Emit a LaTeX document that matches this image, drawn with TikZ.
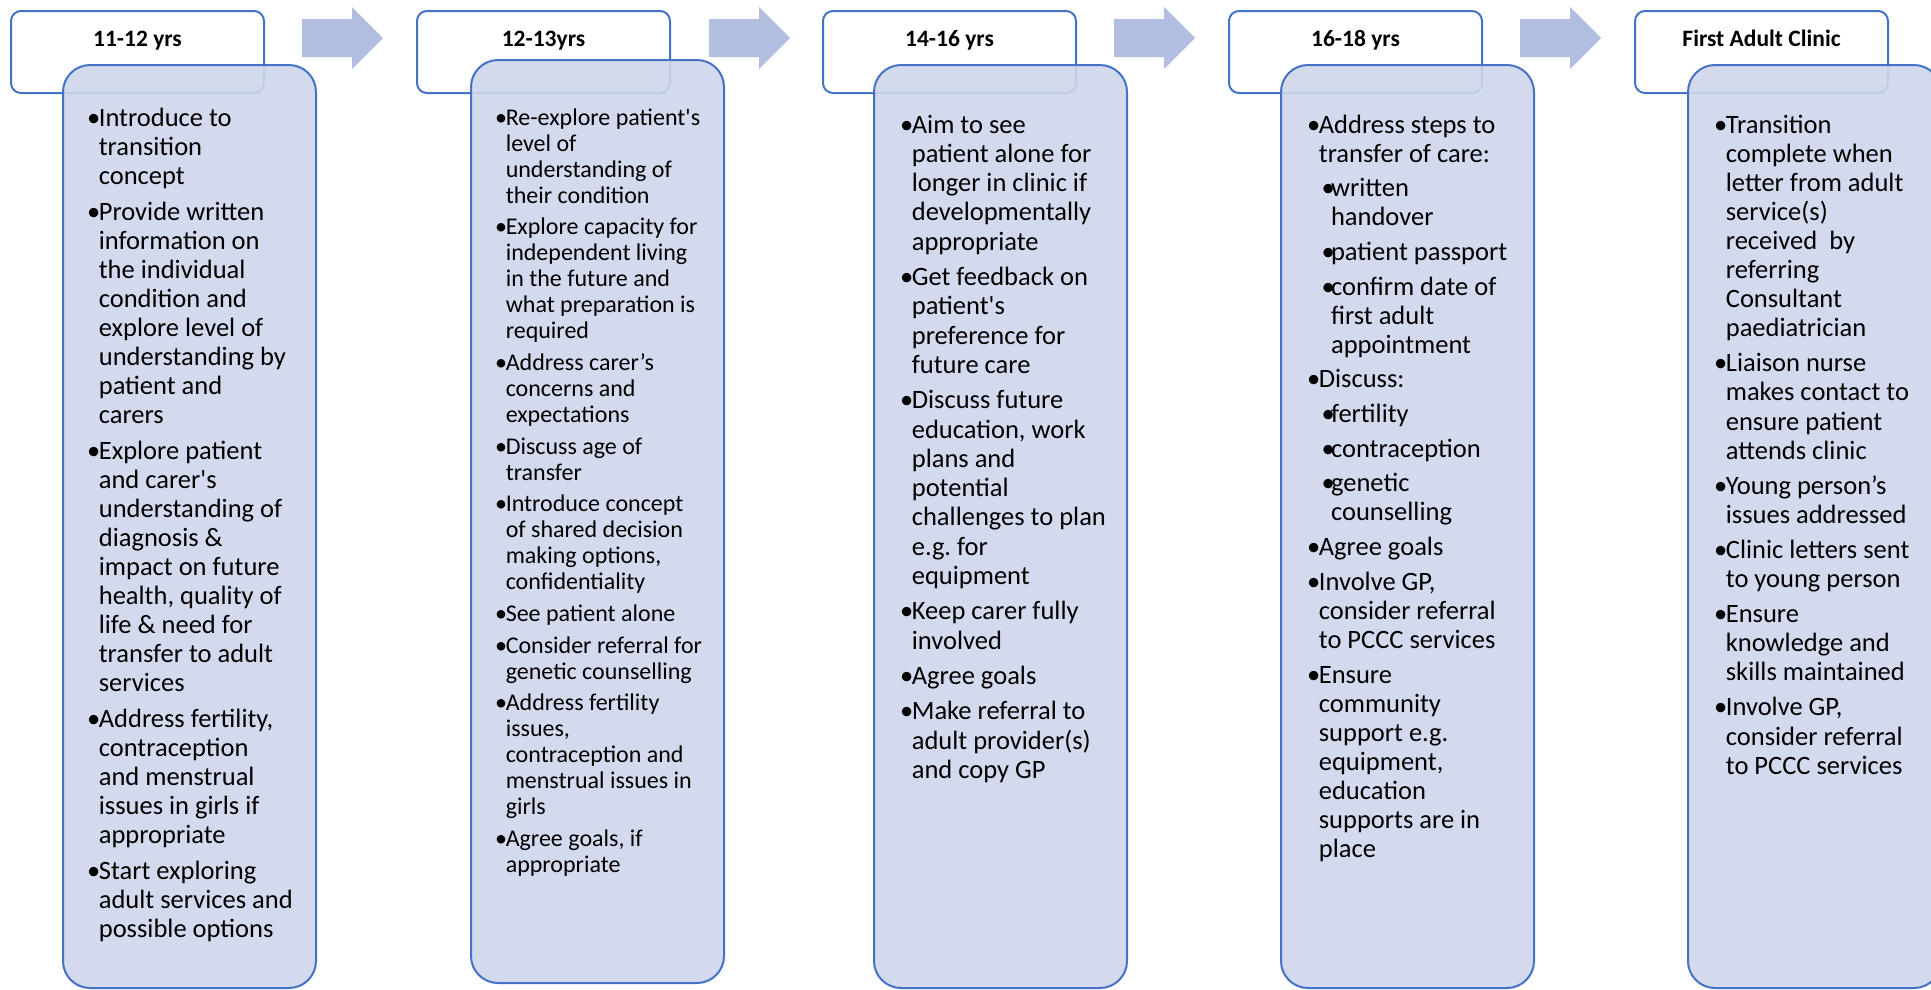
\documentclass[tikz,border=0pt]{standalone}
\usepackage{fontspec}
\setmainfont{Carlito}
\usetikzlibrary{positioning, calc}

\definecolor{lineblue}{RGB}{68,114,196}
\definecolor{panelfill}{RGB}{207,214,235}
\definecolor{arrowfill}{RGB}{178,190,224}

\tikzstyle{header} = [rectangle, rounded corners=10pt, minimum width=253pt, minimum height=82pt, outer sep=0pt, draw=lineblue, line width=2pt, fill=white, font=\fontsize{23.5}{28}\selectfont\bfseries, text height=17pt, text depth=28pt]
\tikzstyle{panel} = [rectangle, rounded corners=27pt, minimum width=253pt, minimum height=923pt, outer sep=0pt, draw=lineblue, line width=2pt, fill=panelfill, fill opacity=0.9, anchor=north west]
\tikzstyle{points} = [anchor=base west, inner sep=0pt, font=\fontsize{26.5}{29}\selectfont]
\tikzstyle{blockarrow} = [fill=arrowfill]

% bullet lists with a hanging indent
\newcommand\bullitem[1]{\par\hangindent=0.44em\hangafter=1\noindent\makebox[0.44em][l]{\textbullet}#1}
\newcommand\subbullitem[1]{\par\hangindent=0.9em\hangafter=1\noindent\hspace*{0.54em}\makebox[0.36em][l]{\textbullet}#1}
\newcommand\pointlist[2]{\parbox[t]{250pt}{\raggedright\setlength{\parskip}{#1}#2}}

\begin{document}
\begin{tikzpicture}[x=1pt, y=-1pt]

        \useasboundingbox (0,0) rectangle (1931,989);
        \clip (0,0) rectangle (1931,989);

        % Age headers
        \node (hd1) [header] at (137.5,52) {11-12 yrs};
        \node (hd2) [header, right=153pt of hd1] {12-13yrs};
        \node (hd3) [header, right=153pt of hd2] {14-16 yrs};
        \node (hd4) [header, right=153pt of hd3] {16-18 yrs};
        \node (hd5) [header, right=153pt of hd4] {First Adult Clinic};

        % Panels overlapping the headers
        \node (bd1) [panel] at ([xshift=52pt, yshift=-54pt]hd1.north west) {};
        \node (bd2) [panel] at ([xshift=54pt, yshift=-49pt]hd2.north west) {};
        \node (bd3) [panel] at ([xshift=51pt, yshift=-54pt]hd3.north west) {};
        \node (bd4) [panel] at ([xshift=52pt, yshift=-54pt]hd4.north west) {};
        \node (bd5) [panel] at ([xshift=53pt, yshift=-54pt]hd5.north west) {};

        % Block arrows between the headers
        \fill [blockarrow] ($(hd1.east)+(38,-33)$) -- ++(50,0) -- ++(0,-12) -- ++(31,31) -- ++(-31,31) -- ++(0,-12) -- ++(-50,0) -- cycle;
        \fill [blockarrow] ($(hd2.east)+(39,-33)$) -- ++(50,0) -- ++(0,-12) -- ++(31,31) -- ++(-31,31) -- ++(0,-12) -- ++(-50,0) -- cycle;
        \fill [blockarrow] ($(hd3.east)+(38,-33)$) -- ++(50,0) -- ++(0,-12) -- ++(31,31) -- ++(-31,31) -- ++(0,-12) -- ++(-50,0) -- cycle;
        \fill [blockarrow] ($(hd4.east)+(38,-33)$) -- ++(50,0) -- ++(0,-12) -- ++(31,31) -- ++(-31,31) -- ++(0,-12) -- ++(-50,0) -- cycle;

        % Panel texts
        \node (tx1) [points] at ([xshift=24pt, yshift=-61pt]bd1.north west) {\pointlist{7pt}{%
            \bullitem{Introduce to\newline transition\newline concept}
            \bullitem{Provide written\newline information on\newline the individual\newline condition and\newline explore level of\newline understanding by\newline patient and\newline carers}
            \bullitem{Explore patient\newline and carer\textquotesingle s\newline understanding of\newline diagnosis \&\newline impact on future\newline health, quality of\newline life \& need for\newline transfer to adult\newline services}
            \bullitem{Address fertility,\newline contraception\newline and menstrual\newline issues in girls if\newline appropriate}
            \bullitem{Start exploring\newline adult services and\newline possible options}}};

        \node (tx2) [points, font=\fontsize{24}{26}\selectfont] at ([xshift=24pt, yshift=-65pt]bd2.north west) {\pointlist{5.7pt}{%
            \bullitem{Re-explore patient\textquotesingle s\newline level of\newline understanding of\newline their condition}
            \bullitem{Explore capacity for\newline independent living\newline in the future and\newline what preparation is\newline required}
            \bullitem{Address carer’s\newline concerns and\newline expectations}
            \bullitem{Discuss age of\newline transfer}
            \bullitem{Introduce concept\newline of shared decision\newline making options,\newline confidentiality}
            \bullitem{See patient alone}
            \bullitem{Consider referral for\newline genetic counselling}
            \bullitem{Address fertility\newline issues,\newline contraception and\newline menstrual issues in\newline girls}
            \bullitem{Agree goals, if\newline appropriate}}};

        \node (tx3) [points, font=\fontsize{26.5}{29.3}\selectfont] at ([xshift=26pt, yshift=-68pt]bd3.north west) {\pointlist{6pt}{%
            \bullitem{Aim to see\newline patient alone for\newline longer in clinic if\newline developmentally\newline appropriate}
            \bullitem{Get feedback on\newline patient\textquotesingle s\newline preference for\newline future care}
            \bullitem{Discuss future\newline education, work\newline plans and\newline potential\newline challenges to plan\newline e.g.\ for\newline equipment}
            \bullitem{Keep carer fully\newline involved}
            \bullitem{Agree goals}
            \bullitem{Make referral to\newline adult provider(s)\newline and copy GP}}};

        \node (tx4) [points, font=\fontsize{26.5}{29}\selectfont] at ([xshift=26pt, yshift=-68pt]bd4.north west) {\pointlist{5.7pt}{%
            \bullitem{Address steps to\newline transfer of care:}
            \subbullitem{written\newline handover}
            \subbullitem{patient passport}
            \subbullitem{confirm date of\newline first adult\newline appointment}
            \bullitem{Discuss:}
            \subbullitem{fertility}
            \subbullitem{contraception}
            \subbullitem{genetic\newline counselling}
            \bullitem{Agree goals}
            \bullitem{Involve GP,\newline consider referral\newline to PCCC services}
            \bullitem{Ensure\newline community\newline support e.g.\newline equipment,\newline education\newline supports are in\newline place}}};

        \node (tx5) [points, font=\fontsize{26.5}{29.1}\selectfont] at ([xshift=26pt, yshift=-68pt]bd5.north west) {\pointlist{6pt}{%
            \bullitem{Transition\newline complete when\newline letter from adult\newline service(s)\newline received\ \ by\newline referring\newline Consultant\newline paediatrician}
            \bullitem{Liaison nurse\newline makes contact to\newline ensure patient\newline attends clinic}
            \bullitem{Young person’s\newline issues addressed}
            \bullitem{Clinic letters sent\newline to young person}
            \bullitem{Ensure\newline knowledge and\newline skills maintained}
            \bullitem{Involve GP,\newline consider referral\newline to PCCC services}}};

    \end{tikzpicture}
\end{document}
